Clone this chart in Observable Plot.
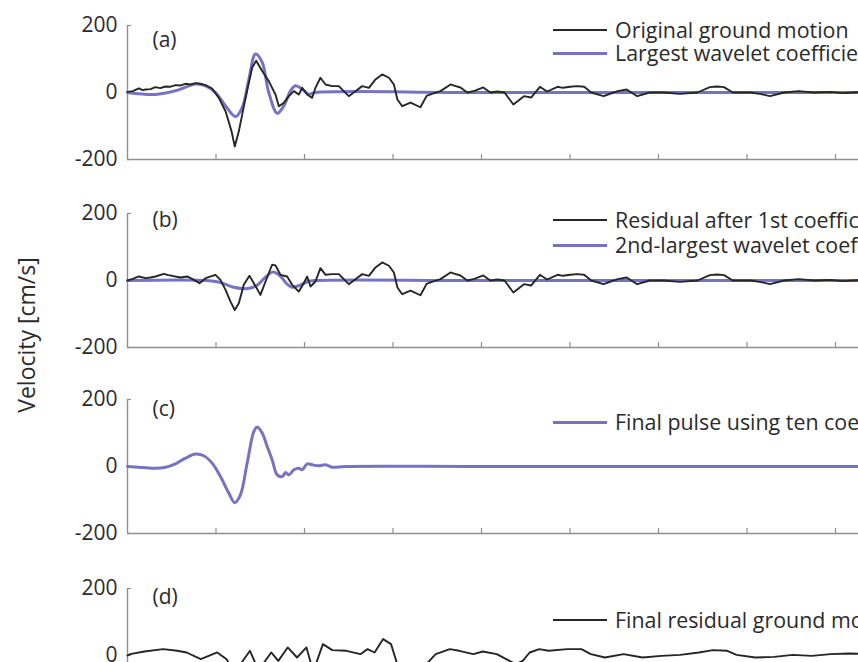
<!DOCTYPE html>
<html>
<head>
<meta charset="utf-8">
<script src="https://cdn.jsdelivr.net/npm/d3@7"></script>
<script src="https://cdn.jsdelivr.net/npm/@observablehq/plot@0.6"></script>
<style>
  html, body { margin: 0; padding: 0; background: #fff; overflow: hidden; }
  #fig { position: relative; width: 858px; height: 662px; overflow: hidden; font-family: "Open Sans", sans-serif; color: #2b2b2b; }
  .panel { position: absolute; left: 0; max-width: none !important; }
  .legend { position: absolute; left: 553px; white-space: nowrap; font-size: 21.4px; line-height: 20px; height: 20px; display: flex; align-items: center; }
  .legend .swatch { display: inline-block; width: 54px; margin-right: 8px; }
  .ylab { position: absolute; left: 26px; top: 335px; transform: translate(-50%, -50%) rotate(-90deg); white-space: nowrap; font-size: 23px; line-height: 24px; }
</style>
</head>
<body>
<div id="fig"></div>
<script>
// ---------------- data (time [s], velocity [cm/s]) ----------------
const xTicks = [5, 10, 15, 20, 25, 30, 35, 40, 45];
const yTicks = [-200, 0, 200];
const panelLabels = ["(a)", "(b)", "(c)", "(d)"];
const legendLabels = [
  ["Original ground motion", "Largest wavelet coefficient"],
  ["Residual after 1st coefficient", "2nd-largest wavelet coefficient"],
  ["Final pulse using ten coefficients"],
  ["Final residual ground motion"]
];
const yAxisTitle = "Velocity [cm/s]";

const originalMotion = [
  [0,2],[0.3,4],[0.64,12],[0.85,7],[1.02,9],[1.3,10],[1.58,16],[1.85,13],[2.15,18],[2.4,17],
  [2.71,22],[3.0,21],[3.28,26],[3.55,24],[3.84,28],[4.1,26],[4.41,22],[4.78,12],[5.16,-16],[5.54,-56],
  [5.88,-116],[6.06,-161],[6.29,-116],[6.67,-16],[7.04,74],[7.27,95],[7.61,64],[7.98,34],[8.36,-6],[8.55,-41],
  [8.83,-31],[9.12,-11],[9.40,4],[9.68,-6],[9.87,14],[10.15,-6],[10.43,-16],[10.62,14],[10.90,44],[11.19,24],
  [11.56,19],[11.94,19],[12.22,4],[12.50,-11],[12.88,4],[13.26,19],[13.64,14],[14.01,39],[14.39,54],[14.77,44],
  [15.05,24],[15.25,-21],[15.52,-41],[15.99,-30],[16.55,-44],[16.9,-10],[17.2,-4],[17.68,4],[18.25,24],[18.5,20],
  [18.81,15],[19.2,0],[19.6,5],[20.1,15],[20.5,0],[20.9,3],[21.3,0],[21.8,-36],[22.4,-11],[22.8,-15],
  [23.3,17],[23.7,3],[24.3,17],[24.6,14],[25.0,17],[25.4,19],[25.8,17],[26.2,0],[26.9,-11],[27.3,-3],
  [27.7,4],[28.2,9],[28.8,-11],[29.5,0],[30.3,0],[31.2,-4],[32.2,0],[32.9,16],[33.3,18],[33.7,16],
  [34.2,0],[35.2,0],[35.8,-5],[36.3,-11],[37.1,0],[37.9,4],[38.8,0],[39.7,2],[40.4,-2],[41.0,0],
  [42,3],[43,-2],[44,1],[45,0]
];

const largestCoefficient = [
  [0,0],[1.58,-6],[2.71,5],[3.84,25],[4.41,20],[4.97,0],[5.54,-40],[6.10,-72],[6.48,-45],[6.86,40],
  [7.23,115],[7.61,90],[7.98,0],[8.46,-62],[8.83,-40],[9.21,5],[9.49,20],[9.87,10],[10.24,-5],[10.62,0],
  [20,0],[45,0]
];

const residualAfterFirst = [
  [0,0],[0.3,5],[0.64,12],[1.02,7],[1.3,9],[1.58,12],[2.05,20],[2.3,16],[2.52,14],[2.99,9],
  [3.37,12],[3.65,5],[4.07,-8],[4.41,7],[4.97,17],[5.25,2],[5.54,-28],[5.82,-63],[6.06,-88],[6.29,-68],
  [6.57,-13],[6.89,14],[7.14,-8],[7.51,-43],[7.80,-3],[8.17,47],[8.36,45],[8.64,17],[9.02,12],[9.30,-13],
  [9.68,-33],[9.96,-8],[10.15,12],[10.34,-18],[10.62,-3],[10.90,37],[11.19,17],
  [11.56,19],[11.94,19],[12.22,4],[12.50,-11],[12.88,4],[13.26,19],[13.64,14],[14.01,39],[14.39,54],[14.77,44],
  [15.05,24],[15.25,-21],[15.52,-41],[15.99,-30],[16.55,-44],[16.9,-10],[17.2,-4],[17.68,4],[18.25,24],[18.5,20],
  [18.81,15],[19.2,0],[19.6,5],[20.1,15],[20.5,0],[20.9,3],[21.3,0],[21.8,-36],[22.4,-11],[22.8,-15],
  [23.3,17],[23.7,3],[24.3,17],[24.6,14],[25.0,17],[25.4,19],[25.8,17],[26.2,0],[26.9,-11],[27.3,-3],
  [27.7,4],[28.2,9],[28.8,-11],[29.5,0],[30.3,0],[31.2,-4],[32.2,0],[32.9,16],[33.3,18],[33.7,16],
  [34.2,0],[35.2,0],[35.8,-5],[36.3,-11],[37.1,0],[37.9,4],[38.8,0],[39.7,2],[40.4,-2],[41.0,0],
  [42,3],[43,-2],[44,1],[45,0]
];

const secondCoefficient = [
  [0,0],[4.5,0],[5.2,-5],[6.0,-20],[6.8,-24],[7.3,-15],[7.7,5],[8.2,25],[8.6,15],[9.0,-10],
  [9.3,-20],[9.7,-15],[10.2,-3],[10.6,0],[20,0],[45,0]
];

const finalPulse = [
  [0,0],[0.64,-2],[1.39,-5],[2.15,-2],[2.71,8],[3.28,25],[3.84,37],[4.31,32],[4.78,10],[5.25,-30],
  [5.73,-80],[6.06,-108],[6.38,-85],[6.76,10],[7.14,105],[7.33,118],[7.61,100],[7.89,60],[8.17,20],[8.46,-25],
  [8.74,-30],[8.93,-18],[9.12,-25],[9.40,-10],[9.68,-5],[9.87,-10],[10.15,8],[10.43,5],[10.81,2],[11.19,5],
  [11.56,-2],[12.32,0],[20,0],[45,0]
];

const finalResidual = [
  [0,0],[0.15,4],[0.95,12],[2.01,19],[2.81,14],[3.34,9],[4.14,-11],[5.07,9],[5.6,-11],[5.95,-45],
  [6.26,-35],[6.92,14],[7.2,-20],[7.46,-40],[8.12,9],[8.52,-16],[9.05,24],[9.58,-6],[10.11,24],[10.4,-30],
  [10.64,-26],[11.04,34],[11.57,16],[12.37,14],[13.16,4],[13.56,19],[13.96,9],[14.44,49],[14.89,34],[15.24,-26],
  [15.55,-56],[16.08,-60],[16.88,-26],[17.41,4],[18.21,19],[18.74,14],[19.54,4],[20.07,12],[20.86,4],[21.4,-11],
  [21.93,-26],[22.33,-16],[22.72,9],[23.26,19],[23.79,14],[24.85,19],[25.64,19],[26.18,4],[26.97,-6],[28.03,4],
  [29.1,-6],[30.16,-1],[31.22,2],[32.28,9],[33.08,16],[33.88,14],[34.41,2],[35.47,-6],[36.53,-4],[37.6,2],
  [38.66,-1],[39.72,4],[40.78,6],[42.1,4],[45,0]
];

// ---------------- styling ----------------
const BLACK = "#262626";
const PURPLE = "#7773c2";
const AXIS = "#8f8f8f";
const TEXT = "#2b2b2b";
const FONT = "Open Sans, sans-serif";

const panels = [
  {top: 0,   labelDy: 15, series: [[largestCoefficient, PURPLE], [originalMotion, BLACK]],
   legend: [[legendLabels[0][0], BLACK, 30], [legendLabels[0][1], PURPLE, 53]]},
  {top: 188, labelDy: 7,  series: [[secondCoefficient, PURPLE], [residualAfterFirst, BLACK]],
   legend: [[legendLabels[1][0], BLACK, 220], [legendLabels[1][1], PURPLE, 245]]},
  {top: 374, labelDy: 10, series: [[finalPulse, PURPLE]],
   legend: [[legendLabels[2][0], PURPLE, 422]]},
  {top: 563, labelDy: 9,  series: [[finalResidual, BLACK]],
   legend: [[legendLabels[3][0], BLACK, 620]]}
];

const W = 940, H = 188, ML = 127, MR = 16.5, MT = 25, MB = 29;
const fig = document.getElementById("fig");

panels.forEach((p, i) => {
  const marks = [
    Plot.ruleY([-200], {stroke: AXIS, strokeWidth: 1.4}),
    Plot.ruleX([0], {stroke: AXIS, strokeWidth: 1.4}),
    Plot.axisX({ticks: xTicks, tickSize: -5, stroke: AXIS, strokeWidth: 1.2, fill: "none", label: null}),
    Plot.axisY({ticks: yTicks, tickSize: -4, stroke: AXIS, strokeWidth: 1.2, fill: "none", label: null}),
    Plot.axisY({ticks: yTicks, tickSize: 0, tickPadding: 10, tickFormat: d => String(d), fontSize: 21, fill: TEXT, label: null}),
    ...p.series.map(([data, color]) => Plot.line(data, {
      x: d => d[0], y: d => d[1], stroke: color,
      strokeWidth: color === PURPLE ? 3 : 1.9,
      curve: color === PURPLE ? "catmull-rom" : "linear",
      strokeLinejoin: "round"
    })),
    Plot.text([panelLabels[i]], {frameAnchor: "top-left", dx: 25, dy: p.labelDy, lineAnchor: "middle", text: d => d, fontSize: 21, fill: TEXT})
  ];
  const chart = Plot.plot({
    width: W, height: H,
    marginLeft: ML, marginRight: MR, marginTop: MT, marginBottom: MB,
    x: {domain: [0, 45], axis: null},
    y: {domain: [-200, 200], axis: null},
    style: {fontFamily: FONT, color: TEXT, background: "transparent", overflow: "visible", maxWidth: "none"},
    marks
  });
  chart.classList.add("panel");
  chart.style.top = p.top + "px";
  chart.style.maxWidth = "none";
  chart.style.width = W + "px";
  chart.style.height = H + "px";
  fig.appendChild(chart);

  p.legend.forEach(([label, color, y]) => {
    const div = document.createElement("div");
    div.className = "legend";
    div.style.top = (y - 10) + "px";
    const sw = document.createElement("span");
    sw.className = "swatch";
    sw.style.borderTop = (color === PURPLE ? 3 : 2) + "px solid " + color;
    const tx = document.createElement("span");
    tx.textContent = label;
    div.appendChild(sw);
    div.appendChild(tx);
    fig.appendChild(div);
  });
});

const yl = document.createElement("div");
yl.className = "ylab";
yl.textContent = yAxisTitle;
fig.appendChild(yl);
</script>
</body>
</html>
